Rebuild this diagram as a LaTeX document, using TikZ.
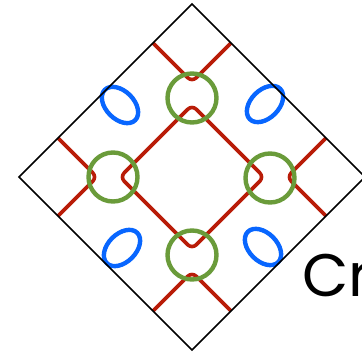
\documentclass[tikz,border=0pt]{standalone}
\usepackage{fontspec}
\newfontfamily\labelfont{Poppins}
\definecolor{bondred}{RGB}{185,28,8}
\definecolor{ringgreen}{RGB}{106,155,58}
\definecolor{lobeblue}{RGB}{8,102,255}
\tikzset{
  frame/.style={draw=black, line width=1.5pt, line join=miter},
  bond/.style={draw=bondred, line width=3.6pt, rounded corners=6pt},
  ring/.style={draw=ringgreen, line width=4.4pt},
  lobe/.style={draw=lobeblue, line width=4.4pt},
}
\begin{document}
\begin{tikzpicture}[x=1pt, y=-1pt]
\useasboundingbox (0,0) rectangle (362,354);
\clip (0,0) rectangle (362,354);
\begin{scope}[shift={(192,177)}]
  % inner red diamond
  \draw[bond] (-36,-36) -- (0,-72) -- (72,0) -- (0,72) -- (-72,0) -- cycle;
  % outer red V shapes
  \draw[bond] (-39,-134) -- (0,-95) -- (39,-134);
  \draw[bond] (-39,134) -- (0,95) -- (39,134);
  \draw[bond] (-134,-39) -- (-95,0) -- (-134,39);
  \draw[bond] (134,-39) -- (95,0) -- (134,39);
  % green rings
  \draw[ring] (0,-79) circle[radius=24.5];
  \draw[ring] (0,78) circle[radius=24.5];
  \draw[ring] (-79,0) circle[radius=24.5];
  \draw[ring] (78,1) circle[radius=24.5];
  % blue lobes
  \draw[lobe] (-72,-72) circle[x radius=21.5, y radius=14, rotate=-45];
  \draw[lobe] (73,-73) circle[x radius=21.5, y radius=14, rotate=45];
  \draw[lobe] (-70,71) circle[x radius=21.5, y radius=14, rotate=45];
  \draw[lobe] (71,70) circle[x radius=21.5, y radius=14, rotate=-45];
  % outer square (diamond)
  \draw[frame] (0,-173) -- (173,0) -- (0,173) -- (-173,0) -- cycle;
\end{scope}
\node[anchor=base west, inner sep=0pt, font=\labelfont\fontsize{60}{60}\selectfont] (label) at (302,296) {Cr};
\end{tikzpicture}
\end{document}
